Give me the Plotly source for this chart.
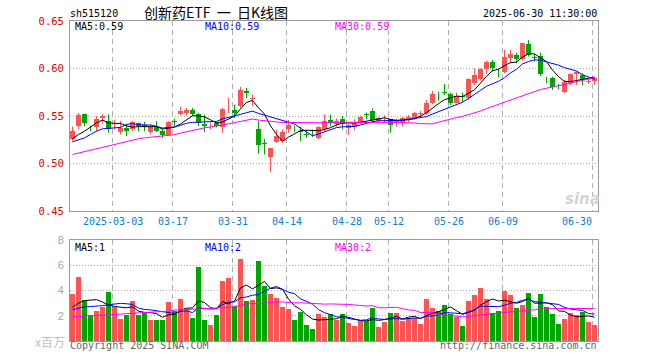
import plotly.graph_objects as go

# ---------------- data ----------------
title_text = "创新药ETF 一 日K线图"
code_text = "sh515120"
time_text = "2025-06-30 11:30:00"

tick_labels = ["2025-03-03", "03-17", "03-31", "04-14", "04-28",
               "05-12", "05-26", "06-09", "06-30"]
tick_index = [7, 17, 27, 36, 46, 53, 63, 72, 87]

open_ = [0.5253, 0.5393, 0.5519, 0.5385, 0.5382, 0.5474, 0.5449, 0.5396, 0.5333, 0.5375,
         0.5358, 0.5428, 0.5410, 0.5330, 0.5382, 0.5340, 0.5305, 0.5450, 0.5523, 0.5533,
         0.5561, 0.5523, 0.5418, 0.5390, 0.5428, 0.5380, 0.5582, 0.5561, 0.5603, 0.5761,
         0.5682, 0.5365, 0.5214, 0.5067, 0.5225, 0.5235, 0.5368, 0.5385, 0.5340, 0.5308,
         0.5325, 0.5270, 0.5358, 0.5463, 0.5412, 0.5465, 0.5370, 0.5388, 0.5430, 0.5520,
         0.5552, 0.5450, 0.5465, 0.5465, 0.5423, 0.5423, 0.5458, 0.5465, 0.5524, 0.5528,
         0.5640, 0.5725, 0.5748, 0.5728, 0.5640, 0.5710, 0.5686, 0.5851, 0.5886, 0.5991,
         0.6065, 0.5968, 0.5967, 0.6107, 0.6142, 0.6097, 0.6255, 0.6116, 0.6132, 0.5910,
         0.5896, 0.5810, 0.5756, 0.5844, 0.5942, 0.5932, 0.5854, 0.5872]
high = [0.5390, 0.5533, 0.5522, 0.5400, 0.5498, 0.5520, 0.5519, 0.5460, 0.5446, 0.5410,
        0.5446, 0.5430, 0.5438, 0.5410, 0.5446, 0.5365, 0.5446, 0.5474, 0.5597, 0.5586,
        0.5586, 0.5533, 0.5516, 0.5430, 0.5438, 0.5586, 0.5690, 0.5621, 0.5807, 0.5796,
        0.5726, 0.5446, 0.5260, 0.5158, 0.5358, 0.5358, 0.5456, 0.5400, 0.5390, 0.5350,
        0.5358, 0.5393, 0.5516, 0.5516, 0.5475, 0.5500, 0.5423, 0.5465, 0.5500, 0.5535,
        0.5580, 0.5490, 0.5507, 0.5466, 0.5475, 0.5493, 0.5510, 0.5545, 0.5552, 0.5668,
        0.5763, 0.5756, 0.5837, 0.5746, 0.5746, 0.5746, 0.5896, 0.6000, 0.6000, 0.6083,
        0.6090, 0.6000, 0.6195, 0.6195, 0.6167, 0.6265, 0.6300, 0.6153, 0.6167, 0.5914,
        0.5914, 0.5837, 0.5879, 0.5949, 0.5967, 0.5949, 0.5886, 0.5914]
low = [0.5235, 0.5358, 0.5393, 0.5340, 0.5340, 0.5420, 0.5323, 0.5360, 0.5305, 0.5288,
       0.5340, 0.5340, 0.5340, 0.5305, 0.5330, 0.5270, 0.5295, 0.5393, 0.5505, 0.5505,
       0.5498, 0.5393, 0.5330, 0.5360, 0.5380, 0.5323, 0.5530, 0.5480, 0.5586, 0.5690,
       0.5603, 0.5105, 0.5095, 0.4909, 0.5218, 0.5218, 0.5323, 0.5330, 0.5235, 0.5270,
       0.5280, 0.5253, 0.5340, 0.5390, 0.5388, 0.5360, 0.5300, 0.5350, 0.5416, 0.5465,
       0.5440, 0.5430, 0.5430, 0.5325, 0.5388, 0.5388, 0.5440, 0.5458, 0.5486, 0.5510,
       0.5626, 0.5661, 0.5720, 0.5616, 0.5633, 0.5650, 0.5668, 0.5826, 0.5872, 0.5942,
       0.5967, 0.5907, 0.5949, 0.6055, 0.6055, 0.6083, 0.6125, 0.6072, 0.5921, 0.5844,
       0.5774, 0.5780, 0.5739, 0.5826, 0.5826, 0.5826, 0.5837, 0.5826]
close = [0.5347, 0.5512, 0.5428, 0.5380, 0.5470, 0.5498, 0.5365, 0.5400, 0.5375, 0.5340,
         0.5435, 0.5390, 0.5386, 0.5386, 0.5347, 0.5305, 0.5435, 0.5442, 0.5551, 0.5561,
         0.5523, 0.5428, 0.5390, 0.5400, 0.5393, 0.5579, 0.5586, 0.5533, 0.5779, 0.5737,
         0.5686, 0.5190, 0.5210, 0.5158, 0.5288, 0.5330, 0.5403, 0.5380, 0.5333, 0.5305,
         0.5320, 0.5386, 0.5446, 0.5428, 0.5450, 0.5412, 0.5405, 0.5416, 0.5486, 0.5515,
         0.5458, 0.5475, 0.5469, 0.5405, 0.5458, 0.5475, 0.5493, 0.5535, 0.5528, 0.5640,
         0.5728, 0.5720, 0.5745, 0.5640, 0.5714, 0.5705, 0.5886, 0.5932, 0.5991, 0.6072,
         0.6002, 0.5965, 0.6118, 0.6153, 0.6097, 0.6265, 0.6142, 0.6112, 0.5942, 0.5907,
         0.5809, 0.5805, 0.5854, 0.5938, 0.5960, 0.5879, 0.5872, 0.5896]
# volume in millions (x百万)
volume = [3.70, 5.05, 3.23, 2.05, 2.35, 2.73, 3.85, 2.70, 1.78, 2.09,
          3.13, 2.09, 2.24, 1.69, 1.69, 1.69, 3.05, 2.40, 3.30, 2.56,
          1.79, 5.87, 1.70, 1.30, 2.03, 4.75, 5.00, 2.75, 6.50, 3.15,
          3.23, 6.35, 4.35, 3.70, 3.39, 2.67, 2.50, 1.70, 2.27, 1.23,
          0.99, 2.10, 1.87, 2.16, 1.68, 2.16, 1.44, 1.20, 1.60, 1.60,
          2.64, 1.12, 1.52, 2.24, 2.24, 1.60, 1.84, 1.84, 1.36, 3.36,
          2.64, 2.40, 2.88, 2.16, 1.92, 1.20, 3.20, 3.68, 4.16, 3.36,
          2.24, 2.40, 4.00, 3.68, 2.64, 2.88, 3.84, 1.92, 3.76, 2.72,
          2.16, 1.36, 1.76, 2.24, 2.08, 2.32, 1.52, 1.28]

# moving-average values at the left edge (they depend on days before the window)
ma5_head = [0.5260, 0.5305, 0.5340, 0.5385]
ma10_head = [0.5228, 0.5253, 0.5270, 0.5305, 0.5340, 0.5365, 0.5372, 0.5378, 0.5380]
ma30_head = [0.5095, 0.5110, 0.5125, 0.5145, 0.5160, 0.5175, 0.5190, 0.5205, 0.5220, 0.5235,
             0.5245, 0.5260, 0.5270, 0.5278, 0.5283, 0.5290, 0.5297, 0.5303, 0.5320, 0.5335,
             0.5350, 0.5365, 0.5375, 0.5385, 0.5393, 0.5405, 0.5418, 0.5430, 0.5445]
vma5_head = [2.69, 3.00, 3.20, 3.23]
vma10_head = [2.48, 2.60, 2.70, 2.73, 2.75, 2.80, 2.87, 2.95, 2.98]
vma30_head = [1.92, 1.94, 1.96, 1.98, 2.00, 2.02, 2.05, 2.09, 2.13, 2.17,
              2.21, 2.25, 2.27, 2.29, 2.31, 2.33, 2.35, 2.45, 2.47, 2.50,
              2.52, 2.55, 2.56, 2.57, 2.58, 2.60, 2.65, 2.75, 2.80]

ma_labels_price = ["MA5:0.59", "MA10:0.59", "MA30:0.59"]
ma_labels_vol = ["MA5:1", "MA10:2", "MA30:2"]


def moving_average(values, n, head):
    out = list(head)
    for i in range(n - 1, len(values)):
        out.append(sum(values[i - n + 1:i + 1]) / n)
    return out


N = len(close)
idx = list(range(N))
ma5 = moving_average(close, 5, ma5_head)
ma10 = moving_average(close, 10, ma10_head)
ma30 = moving_average(close, 30, ma30_head)
vma5 = moving_average(volume, 5, vma5_head)
vma10 = moving_average(volume, 10, vma10_head)
vma30 = moving_average(volume, 30, vma30_head)

RED = "#fa5454"
GREEN = "#00a600"
up = [c >= o for o, c in zip(open_, close)]
colors = [RED if u else GREEN for u in up]

MONO = "DejaVu Sans Mono"

fig = go.Figure()

# candle bodies
fig.add_trace(go.Bar(x=idx, base=open_, y=[c - o for o, c in zip(open_, close)],
                     marker=dict(color=colors, line=dict(width=0)), width=0.8,
                     xaxis="x", yaxis="y", hoverinfo="skip", showlegend=False))
# wicks
for col, flag in ((RED, True), (GREEN, False)):
    wx, wy = [], []
    for i in idx:
        if up[i] == flag:
            wx += [i, i, None]
            wy += [low[i], high[i], None]
    fig.add_trace(go.Scatter(x=wx, y=wy, mode="lines", line=dict(color=col, width=1),
                             xaxis="x", yaxis="y", hoverinfo="skip", showlegend=False))
# price MAs
for vals, col in ((ma5, "#000000"), (ma10, "#0000ff"), (ma30, "#ff00ff")):
    fig.add_trace(go.Scatter(x=idx, y=vals, mode="lines", line=dict(color=col, width=1),
                             xaxis="x", yaxis="y", hoverinfo="skip", showlegend=False))
# volume
fig.add_trace(go.Bar(x=idx, y=volume, marker=dict(color=colors, line=dict(width=0)), width=0.8,
                     xaxis="x2", yaxis="y2", hoverinfo="skip", showlegend=False))
for vals, col in ((vma5, "#000000"), (vma10, "#0000ff"), (vma30, "#ff00ff")):
    fig.add_trace(go.Scatter(x=idx, y=vals, mode="lines", line=dict(color=col, width=1),
                             xaxis="x2", yaxis="y2", hoverinfo="skip", showlegend=False))

# ---------------- layout ----------------
L, R, T, B = 70, 598, 21, 341
W, H = 660, 360


def px(x):
    return (x - L) / (R - L)


def py(y):
    return (B - y) / (B - T)


xrange_ = [-0.41667, N - 0.41667]
grid_x = [i - 1 / 3 for i in tick_index]
frame = "#9a9a9a"
gridc = "#b0b0b0"

xcommon = dict(range=xrange_, showline=True, mirror=True, linecolor=frame, linewidth=1,
               tickvals=grid_x, showticklabels=False, ticks="", showgrid=True,
               gridcolor=gridc, griddash="5px,4px", gridwidth=1, zeroline=False,
               fixedrange=True)

fig.update_layout(
    width=W, height=H, autosize=False,
    margin=dict(l=L, r=W - R, t=T, b=H - B, pad=0),
    paper_bgcolor="white", plot_bgcolor="white",
    barmode="overlay", bargap=0, hovermode=False, showlegend=False,
    xaxis=dict(anchor="y", **xcommon),
    xaxis2=dict(anchor="y2", **xcommon),
    yaxis=dict(domain=[py(211), 1], range=[0.45, 0.65], anchor="x",
               tickvals=[0.45, 0.50, 0.55, 0.60, 0.65],
               ticktext=["0.45", "0.50", "0.55", "0.60", "0.65"],
               tickfont=dict(family=MONO, size=10.5, color="#e00000"),
               showline=True, mirror=True, linecolor=frame, linewidth=1,
               showgrid=True, gridcolor=gridc, griddash="1px,2px", gridwidth=1,
               zeroline=False, ticks="", ticklabelstandoff=3, fixedrange=True),
    yaxis2=dict(domain=[0, py(240)], range=[0, 8], anchor="x2",
                tickvals=[2, 4, 6, 8], ticktext=["2", "4", "6", "8"],
                tickfont=dict(family="Liberation Sans", size=11, color="#a8a8a8"),
                showline=True, mirror=True, linecolor=frame, linewidth=1,
                showgrid=True, gridcolor=gridc, griddash="1px,2px", gridwidth=1,
                zeroline=False, ticks="", ticklabelstandoff=3, fixedrange=True),
)

ann = []


def text(x, y, s, color="#000", size=10, family=MONO, xanchor="left", **kw):
    ann.append(dict(x=px(x), y=py(y), xref="paper", yref="paper", text=s, showarrow=False,
                    xanchor=xanchor, yanchor="middle", borderpad=0,
                    font=dict(family=family, size=size, color=color), **kw))


# header
text(69, 13, code_text, color="#000")
text(216, 12.5, "创新药ETF&nbsp;&nbsp;一&nbsp;&nbsp;日K线图", size=14,
     family="Noto Sans CJK SC", xanchor="center")
text(598, 13, time_text, xanchor="right")
# MA labels
ma_cols = ["#000000", "#0000ff", "#ff00ff"]
for s, c, x in zip(ma_labels_price, ma_cols, [74, 204, 334]):
    text(x, 26.5, s, color=c)
for s, c, x in zip(ma_labels_vol, ma_cols, [74, 204, 334]):
    text(x, 247, s, color=c)
# date labels
for k, (lab, i) in enumerate(zip(tick_labels, tick_index)):
    if k == len(tick_labels) - 1:
        text(592.5, 221, lab, color="#0a7fd0", xanchor="right")
    else:
        ann.append(dict(x=i - 1 / 3, y=py(221), xref="x", yref="paper", text=lab,
                        showarrow=False, xanchor="center", yanchor="middle", borderpad=0,
                        font=dict(family=MONO, size=10, color="#0a7fd0")))
# footer
text(69, 345.5, "Copyright 2025 SINA.COM", color="#666666")
text(598, 345.5, "http://finance.sina.com.cn", color="#666666", xanchor="right")
text(66, 341, "x百万", color="#c0c0c0", size=12, family="Noto Sans CJK SC", xanchor="right")
# watermark
text(582, 199, "<b><i>sina</i></b>", color="#d4d4d4", size=15, family="DejaVu Sans",
     xanchor="center")

fig.update_layout(annotations=ann)

fig.write_html("out.html", config={"displayModeBar": False, "staticPlot": True},
               post_script="document.body.style.margin='0px';document.body.style.overflow='hidden';")
